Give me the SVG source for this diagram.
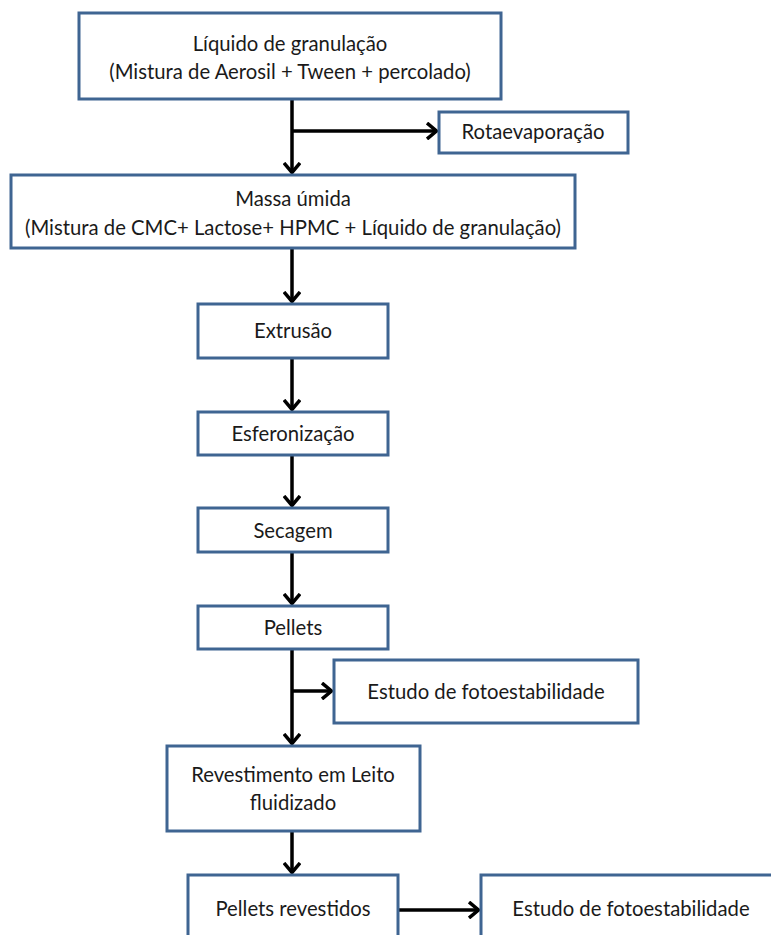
<svg xmlns="http://www.w3.org/2000/svg" width="771" height="935" viewBox="0 0 771 935">
<style>
.box{fill:#fff;stroke:#3f6592;stroke-width:3}
.t{font-family:Lato,"Open Sans","Liberation Sans",sans-serif;font-size:20.3px;fill:#1a1a1a;text-anchor:middle}
.c{fill:none;stroke:#000;stroke-width:3.5}
</style>
<defs>
<marker id="ah" viewBox="0 0 12 18" refX="11" refY="9" markerWidth="12" markerHeight="18" markerUnits="userSpaceOnUse" orient="auto">
<path d="M1,1 L10.5,9 L1,17" fill="none" stroke="#000" stroke-width="3.5"/>
</marker>
</defs>
<g id="connectors">
<path class="c" d="M292,99 V173" marker-end="url(#ah)"/>
<path class="c" d="M292,131 H437" marker-end="url(#ah)"/>
<path class="c" d="M292,248 V302" marker-end="url(#ah)"/>
<path class="c" d="M292,358 V410" marker-end="url(#ah)"/>
<path class="c" d="M292,455 V506" marker-end="url(#ah)"/>
<path class="c" d="M292,552 V604" marker-end="url(#ah)"/>
<path class="c" d="M292,649 V744" marker-end="url(#ah)"/>
<path class="c" d="M292,691 H332" marker-end="url(#ah)"/>
<path class="c" d="M292,831 V873" marker-end="url(#ah)"/>
<path class="c" d="M398,910 H479" marker-end="url(#ah)"/>
</g>
<g id="n1"><rect class="box" x="79" y="13" width="422" height="86"/>
<text class="t" x="290" y="51">Líquido de granulação</text>
<text class="t" x="290" y="79">(Mistura de Aerosil + Tween + percolado)</text></g>
<g id="n2"><rect class="box" x="439" y="112" width="189" height="41"/>
<text class="t" x="533" y="139">Rotaevaporação</text></g>
<g id="n3"><rect class="box" x="11" y="175" width="564" height="73"/>
<text class="t" x="293" y="206">Massa úmida</text>
<text class="t" x="293" y="235">(Mistura de CMC+ Lactose+ HPMC + Líquido de granulação)</text></g>
<g id="n4"><rect class="box" x="198" y="304" width="190" height="54"/>
<text class="t" x="293" y="338">Extrusão</text></g>
<g id="n5"><rect class="box" x="198" y="412" width="190" height="43"/>
<text class="t" x="293" y="441">Esferonização</text></g>
<g id="n6"><rect class="box" x="198" y="508" width="190" height="44"/>
<text class="t" x="293" y="538">Secagem</text></g>
<g id="n7"><rect class="box" x="198" y="606" width="190" height="43"/>
<text class="t" x="293" y="635">Pellets</text></g>
<g id="n8"><rect class="box" x="334" y="660" width="304" height="63"/>
<text class="t" x="486" y="699">Estudo de fotoestabilidade</text></g>
<g id="n9"><rect class="box" x="167" y="746" width="253" height="85"/>
<text class="t" x="293" y="782">Revestimento em Leito</text>
<text class="t" x="293" y="810">fluidizado</text></g>
<g id="n10"><rect class="box" x="188" y="875" width="210" height="70"/>
<text class="t" x="293" y="916">Pellets revestidos</text></g>
<g id="n11"><rect class="box" x="481" y="875" width="300" height="70"/>
<text class="t" x="631" y="916">Estudo de fotoestabilidade</text></g>
</svg>
